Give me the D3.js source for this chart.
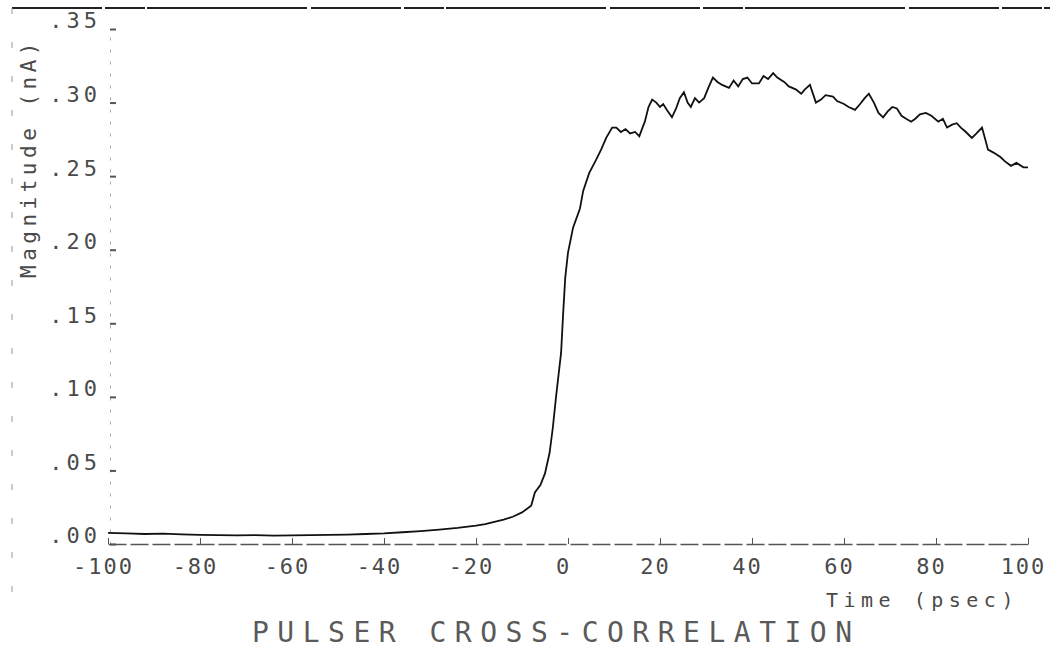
<!DOCTYPE html>
<meta charset="utf-8">
<script src="https://d3js.org/d3.v7.min.js"></script>
<html>
<head>
<style>
  body { margin: 0; background: #fff; }
  text { font-family: "DejaVu Sans Mono", monospace; fill: #4a4a4a; }
  .axis path, .axis line { stroke: #555; }
</style>
</head>
<body>
<div id="plot"></div>
<script>

// time (psec) and magnitude (nA)
var times = [-100, -96, -92, -88, -84, -80, -76, -72, -68, -64, -60, -56, -52, -48, -44, -40,
  -36, -32, -28, -24, -20, -18, -16, -14, -12, -10, -8, -7.2, -6, -5, -4, -3.3, -2.6, -2.2,
  -1.5, -1.1, -0.6, 0, 1.1, 2.6, 3.3, 4.6, 6.1, 7.2, 8.3, 9.6, 10.5, 11.5, 12.5, 13.5, 14.6,
  15.5, 16.2, 16.7, 17.5, 18.3, 19.2, 20, 20.7, 21.5, 22.6, 23.5, 24.3, 25.2, 26, 26.7, 27.6,
  28.5, 29.6, 30.5, 31.5, 32.5, 33.5, 35, 36, 37, 38, 39, 40, 41.5, 42.5, 43.5, 44.6, 45.5,
  47, 48, 49.5, 50.7, 51.5, 52.6, 53.9, 55, 56, 57.6, 58.5, 60, 61, 62.4, 63.5, 64.5, 65.4,
  66.5, 67.5, 68.5, 69.5, 70.5, 71.5, 72.5, 73.5, 74.6, 75.5, 76.5, 77.8, 79, 80.5, 81.5,
  82.4, 83.5, 84.5, 85.4, 86.5, 87.8, 88.8, 90, 90.7, 91.3, 92.5, 94, 95, 96.3, 97.5, 99, 100];

var magnitudes = [.0075, .0072, .0068, .0070, .0066, .0062, .0060, .0058, .0060, .0057, .0058,
  .0060, .0062, .0064, .0068, .0072, .0080, .0088, .0098, .0110, .0125, .0135, .0150, .0165,
  .0185, .0215, .026, .035, .040, .048, .062, .079, .100, .111, .130, .154, .181, .198, .215,
  .228, .240, .252, .261, .268, .276, .283, .283, .280, .282, .279, .280, .277, .283, .287,
  .297, .302, .300, .297, .299, .295, .290, .296, .303, .307, .300, .297, .303, .300, .303,
  .310, .317, .314, .312, .310, .315, .311, .316, .317, .313, .313, .318, .316, .320, .317,
  .314, .311, .309, .306, .309, .312, .300, .302, .305, .304, .301, .299, .297, .295, .299,
  .303, .306, .300, .293, .290, .294, .297, .296, .291, .289, .287, .289, .292, .293, .291,
  .287, .289, .283, .285, .286, .283, .280, .276, .279, .283, .275, .268, .266, .263, .260,
  .257, .259, .256, .256];

var xTicks = [-100, -80, -60, -40, -20, 0, 20, 40, 60, 80, 100];
var xTickLabels = ["-100", "-80", "-60", "-40", "-20", "0", "20", "40", "60", "80", "100"];
var yTicks = [0, .05, .10, .15, .20, .25, .30, .35];
var yTickLabels = [".00", ".05", ".10", ".15", ".20", ".25", ".30", ".35"];

var W = 1050, H = 652;

var svg = d3.select("#plot")
  .append("svg")
    .attr("width", W)
    .attr("height", H);

// scales
var x = d3.scaleLinear().domain([-100, 100]).range([108, 1028]);
var y = d3.scaleLinear().domain([0, .35]).range([544, 29]);

// page frame left over from the scan
svg.append("line")
  .attr("x1", 12).attr("x2", W).attr("y1", 8).attr("y2", 8)
  .style("stroke", "#222").style("stroke-width", 2)
  .style("stroke-dasharray", "90,3,40,2,160,4");
svg.append("line")
  .attr("x1", 12).attr("x2", 12).attr("y1", 8).attr("y2", 600)
  .style("stroke", "#999").style("stroke-width", 1)
  .style("stroke-dasharray", "6,28");

// x axis
var xAxis = svg.append("g")
  .attr("class", "axis")
  .attr("transform", "translate(0,544)")
  .call(d3.axisBottom(x)
    .tickValues(xTicks)
    .tickFormat(function(d, i) { return xTickLabels[i]; })
    .tickSize(-6)
    .tickSizeOuter(0)
    .tickPadding(14));
xAxis.select(".domain").style("stroke-dasharray", "18,4").style("stroke-width", 1.3);
xAxis.selectAll("text")
  .attr("dx", -5)
  .style("font-size", "22px")
  .style("letter-spacing", "2px");

// y axis
var yAxis = svg.append("g")
  .attr("class", "axis")
  .attr("transform", "translate(110,0)")
  .call(d3.axisLeft(y)
    .tickValues(yTicks)
    .tickFormat(function(d, i) { return yTickLabels[i]; })
    .tickSize(-6)
    .tickSizeOuter(0)
    .tickPadding(9));
yAxis.select(".domain").style("stroke", "#aaa").style("stroke-dasharray", "3,9");
yAxis.selectAll(".tick line").style("stroke-width", 2);
yAxis.selectAll("text")
  .attr("dy", "-0.05em")
  .style("font-size", "22px")
  .style("letter-spacing", "4px");

// axis titles
svg.append("text")
  .attr("transform", "translate(36,158) rotate(-90)")
  .attr("text-anchor", "middle")
  .style("font-size", "21px")
  .style("letter-spacing", "4.5px")
  .text("Magnitude (nA)");

svg.append("text")
  .attr("x", 826)
  .attr("y", 607)
  .style("font-size", "20px")
  .style("letter-spacing", "5.5px")
  .text("Time (psec)");

svg.append("text")
  .attr("x", 252)
  .attr("y", 642)
  .style("font-size", "28px")
  .style("letter-spacing", "8.5px")
  .style("fill", "#5a5a5a")
  .text("PULSER CROSS-CORRELATION");

// the trace
var pts = times.map(function(t, i) { return [t, magnitudes[i]]; });
svg.append("path")
  .datum(pts)
  .attr("fill", "none")
  .attr("stroke", "#111")
  .attr("stroke-width", 1.8)
  .attr("d", d3.line()
    .x(function(d) { return x(d[0]); })
    .y(function(d) { return y(d[1]); }));

</script>
</body>
</html>
